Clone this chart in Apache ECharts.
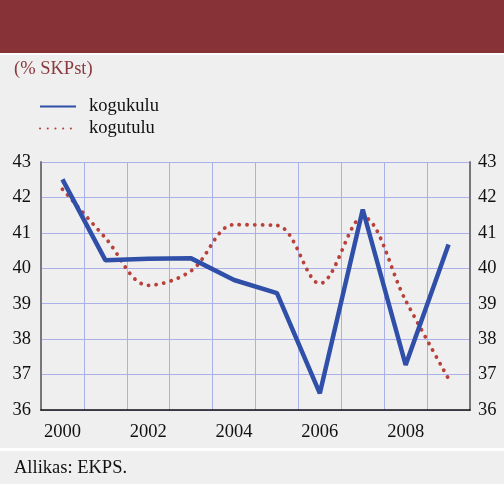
<!DOCTYPE html>
<html>
<head>
<meta charset="utf-8">
<script src="https://cdn.jsdelivr.net/npm/echarts@6/dist/echarts.min.js"></script>
<style>
  html, body { margin: 0; padding: 0; background: #efefef; }
  #main { width: 504px; height: 484px; }
</style>
</head>
<body>
<div id="main"></div>
<script>
// data
var years = ['2000', '2001', '2002', '2003', '2004', '2005', '2006', '2007', '2008', '2009'];
var kogukulu = [42.51, 40.23, 40.27, 40.28, 39.67, 39.3, 36.47, 41.66, 37.27, 40.67];
var kogutulu = [42.23, 40.86, 39.52, 39.93, 41.23, 41.21, 39.57, 41.45, 39.09, 36.88];

var serif = '"Liberation Serif", "DejaVu Serif", serif';
var chart = echarts.init(document.getElementById('main'));

chart.setOption({
    backgroundColor: '#efefef',
    animation: false,
    textStyle: { fontFamily: serif },
    graphic: [
        { type: 'rect', shape: { x: 0, y: 0, width: 504, height: 53 }, style: { fill: '#873236' } },
        { type: 'rect', shape: { x: 0, y: 53, width: 504, height: 2 }, style: { fill: '#ffffff' } },
        { type: 'text', left: 14, top: 60, style: { text: '(% SKPst)', fill: '#8a3a3e', font: '18.5px ' + serif } },
        { type: 'rect', shape: { x: 0, y: 448, width: 504, height: 3 }, style: { fill: '#ffffff' } },
        { type: 'text', left: 14, top: 459, style: { text: 'Allikas: EKPS.', fill: '#111', font: '18.5px ' + serif } }
    ],
    legend: {
        orient: 'vertical',
        left: 34,
        top: 92,
        itemWidth: 36,
        itemHeight: 10,
        itemGap: 3,
        itemStyle: { opacity: 0 },
        textStyle: { fontFamily: serif, fontSize: 18.5, color: '#111', padding: [0, 0, 0, 8] },
        data: ['kogukulu', 'kogutulu']
    },
    grid: { left: 41, right: 34, top: 162, bottom: 74 },
    xAxis: {
        type: 'category',
        data: years,
        boundaryGap: true,
        axisLine: { lineStyle: { color: '#111', width: 1.5 } },
        axisTick: { interval: 0, length: 5, lineStyle: { color: '#111', width: 1.5 } },
        axisLabel: { interval: 1, color: '#111', fontSize: 18.5, fontFamily: serif, margin: 13 },
        splitLine: { show: true, interval: 0, lineStyle: { color: '#a9b1e6', width: 1 } }
    },
    yAxis: [
        {
            type: 'value', min: 36, max: 43, interval: 1,
            axisLine: { show: true, lineStyle: { color: '#777', width: 2 } },
            axisTick: { show: false },
            axisLabel: { color: '#111', fontSize: 18.5, fontFamily: serif, margin: 10 },
            splitLine: { lineStyle: { color: '#a9b1e6', width: 1 } }
        },
        {
            type: 'value', min: 36, max: 43, interval: 1, position: 'right',
            axisLine: { show: true, lineStyle: { color: '#777', width: 2 } },
            axisTick: { show: false },
            axisLabel: { color: '#111', fontSize: 18.5, fontFamily: serif, margin: 8 },
            splitLine: { show: false }
        }
    ],
    series: [
        {
            name: 'kogukulu',
            type: 'line',
            data: kogukulu,
            symbol: 'none',
            smooth: false,
            color: '#2f4fa8',
            lineStyle: { color: '#2f4fa8', width: 4.5 },
            z: 3
        },
        {
            name: 'kogutulu',
            type: 'line',
            data: kogutulu,
            symbol: 'none',
            smooth: 0.35,
            color: '#b8413a',
            lineStyle: { color: '#b8413a', width: 3.8, type: [0.1, 7.6], cap: 'round' },
            z: 2
        }
    ]
});
</script>
</body>
</html>
